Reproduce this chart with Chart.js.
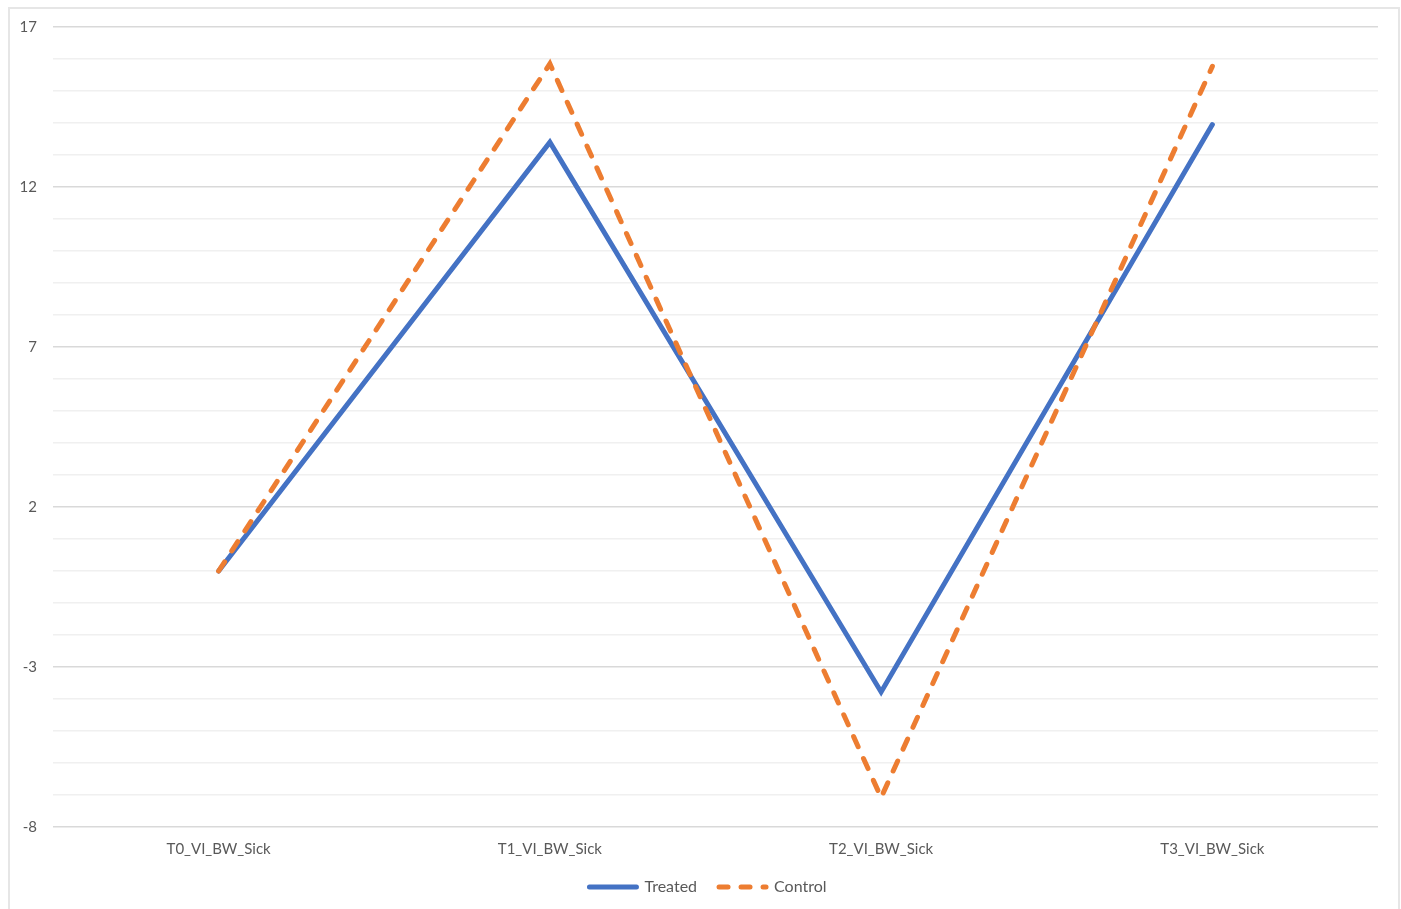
<!DOCTYPE html>
<html>
<head>
<meta charset="utf-8">
<script src="https://cdn.jsdelivr.net/npm/chart.js@4.4.1/dist/chart.umd.min.js"></script>
<style>
  html, body { margin: 0; padding: 0; background: #ffffff; }
  #wrap { position: relative; width: 1401px; height: 909px; overflow: hidden; }
  #frame { position: absolute; left: 8px; top: 7px; width: 1392px; height: 1000px; border: 2px solid #e6e6e6; box-sizing: border-box; }
  canvas { position: absolute; left: 0; top: 0; }
</style>
</head>
<body>
<div id="wrap">
  <div id="frame"></div>
  <canvas id="c" width="1401" height="909"></canvas>
</div>
<script>
const categories = ['T0_VI_BW_Sick', 'T1_VI_BW_Sick', 'T2_VI_BW_Sick', 'T3_VI_BW_Sick'];
const treatedValues = [0, 13.4, -3.78, 13.95];
const controlValues = [0, 15.85, -7.08, 15.77];
const yMin = -8;
const yMax = 17;
const majorTicks = [-8, -3, 2, 7, 12, 17];

const FONT = 'Lato, "Open Sans", "DejaVu Sans", sans-serif';
const TEXT = '#595959';

const legendTweak = {
  id: 'legendTweak',
  beforeDraw(chart) {
    const lg = chart.legend;
    if (!lg || lg._tweaked) return;
    lg._tweaked = true;
    lg.options.labels.padding = 22;
    lg.top -= 12;
    lg.left += 7;
    lg.right += 7;
  }
};

new Chart(document.getElementById('c'), {
  type: 'line',
  data: {
    labels: categories,
    datasets: [
      {
        label: 'Treated',
        data: treatedValues,
        borderColor: '#4472C4',
        backgroundColor: '#4472C4',
        borderWidth: 5,
        pointRadius: 0,
        tension: 0,
        order: 1,
        borderCapStyle: 'round',
        borderJoinStyle: 'miter'
      },
      {
        label: 'Control',
        data: controlValues,
        borderColor: '#ED7D31',
        backgroundColor: '#ED7D31',
        borderWidth: 5,
        borderDash: [11, 13],
        borderCapStyle: 'round',
        pointRadius: 0,
        tension: 0,
        order: 0
      }
    ]
  },
  plugins: [legendTweak],
  options: {
    responsive: false,
    animation: false,
    devicePixelRatio: 1,
    layout: { padding: { left: 0, right: 23, top: 27, bottom: 4 } },
    plugins: {
      tooltip: { enabled: false },
      legend: {
        position: 'bottom',
        labels: {
          usePointStyle: true,
          pointStyle: 'line',
          pointStyleWidth: 47,
          color: TEXT,
          font: { family: FONT, size: 16 },
          padding: 10,
          sort: (a, b) => a.datasetIndex - b.datasetIndex,
          generateLabels: (chart) => {
            const items = Chart.defaults.plugins.legend.labels.generateLabels(chart);
            return items.map((it) => {
              const ds = chart.data.datasets[it.datasetIndex];
              it.lineDash = ds.borderDash ? [9, 13] : [];
              it.lineWidth = 5;
              it.lineCap = 'round';
              it.strokeStyle = ds.borderColor;
              it.fillStyle = ds.borderColor;
              return it;
            });
          }
        }
      }
    },
    scales: {
      x: {
        offset: true,
        grid: { display: false },
        border: { display: false },
        ticks: { color: TEXT, font: { family: FONT, size: 15 }, padding: 5, maxRotation: 0 },
        afterFit: (s) => { s.height = 42; }
      },
      y: {
        min: yMin,
        max: yMax,
        border: { display: false },
        grid: {
          drawTicks: false,
          lineWidth: 1.5,
          color: (ctx) => majorTicks.includes(ctx.tick.value) ? '#d9d9d9' : '#f0f0f0'
        },
        ticks: {
          stepSize: 1,
          padding: 16,
          color: TEXT,
          font: { family: FONT, size: 15 },
          callback: (v) => majorTicks.includes(v) ? String(v) : ''
        },
        afterFit: (s) => { s.width = 53; }
      }
    }
  }
});
</script>
</body>
</html>
